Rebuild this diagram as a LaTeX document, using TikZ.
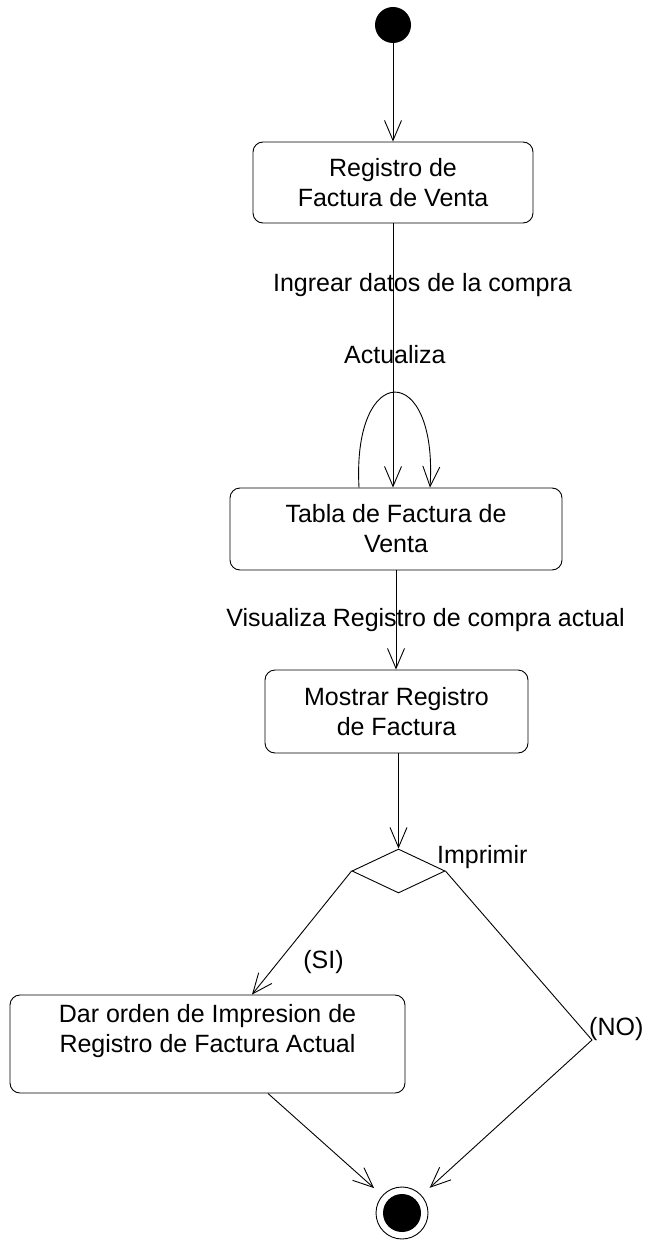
\documentclass[tikz,border=0pt]{standalone}
\usepackage{fontspec}
\setmainfont{Liberation Sans}
\usetikzlibrary{positioning, arrows.meta, shapes.geometric, calc}

\begin{document}
\begin{tikzpicture}[
    x=1pt, y=-1pt,
    font=\fontsize{25}{30}\selectfont,
    % Styles for the activity diagram
    actbox/.style={draw, rounded corners=10pt, align=center, inner sep=2pt, line width=0.9pt},
    startst/.style={circle, fill=black, minimum size=36pt, inner sep=0pt},
    finst/.style={circle, draw, line width=0.9pt, minimum size=52pt, inner sep=0pt,
        path picture={\fill[black] (path picture bounding box.center) circle (19pt);}},
    decst/.style={diamond, draw, line width=0.9pt, minimum width=93pt, minimum height=44pt, inner sep=0pt},
    lbl/.style={inner sep=1pt},
    flow/.style={-{Straight Barb[length=20pt, width=17pt]}, line width=0.9pt}
]

% page frame
\fill[white] (0,0) rectangle (643,1241);

% ==========================================
% NODES
% ==========================================
\node[startst] (start) at (393,25) {};
\node[actbox, minimum width=280pt, minimum height=81pt] (reg) at (393,182.5) {Registro de\\Factura de Venta};
\node[actbox, minimum width=332pt, minimum height=82pt] (tabla) at (396,529) {Tabla de Factura de\\Venta};
\node[actbox, minimum width=263pt, minimum height=83pt] (mostrar) at (396.5,711.5) {Mostrar Registro\\de Factura};
\node[decst] (dec) at (398.5,871) {};
\node[actbox, minimum width=395pt, minimum height=98pt, text depth=31pt] (dar) at (207.5,1044) {Dar orden de Impresion de\\Registro de Factura Actual};
\node[finst] (fin) at (402,1213) {};
\coordinate (nobend) at (592,1040);

% guard labels
\node[lbl, anchor=west] (imp) at ([xshift=14pt, yshift=3pt]dec.north east) {Imprimir};
\node[lbl, anchor=west, xshift=-4pt, yshift=11pt] (no) at (nobend) {(NO)};

% ==========================================
% TRANSITIONS
% ==========================================
\draw[flow] (start) -- (reg);
\draw[flow] (reg) -- (reg |- tabla.north)
    node[lbl, pos=0.234, xshift=29.5pt] {Ingrear datos de la compra};
% self loop
\draw[flow] ([xshift=-37pt]tabla.north) .. controls +(-7,-127) and +(8,-127) .. ([xshift=34pt]tabla.north)
    node[lbl, pos=0.5, yshift=38pt] {Actualiza};
\draw[flow] (tabla.south) -- (tabla.south |- mostrar.north)
    node[lbl, midway, xshift=29.5pt] {Visualiza Registro de compra actual};
\draw[flow] (dec.north |- mostrar.south) -- (dec.north);
% branches
\draw[flow] (dec.west) -- ([xshift=44.5pt]dar.north)
    node[lbl, pos=0.74, anchor=west, xshift=24pt] {(SI)};
\draw[flow, shorten >=11pt] ([xshift=60.5pt]dar.south) -- (fin);
\draw[flow, shorten >=11pt] (dec.east) -- (nobend) -- (fin);

\end{tikzpicture}
\end{document}
